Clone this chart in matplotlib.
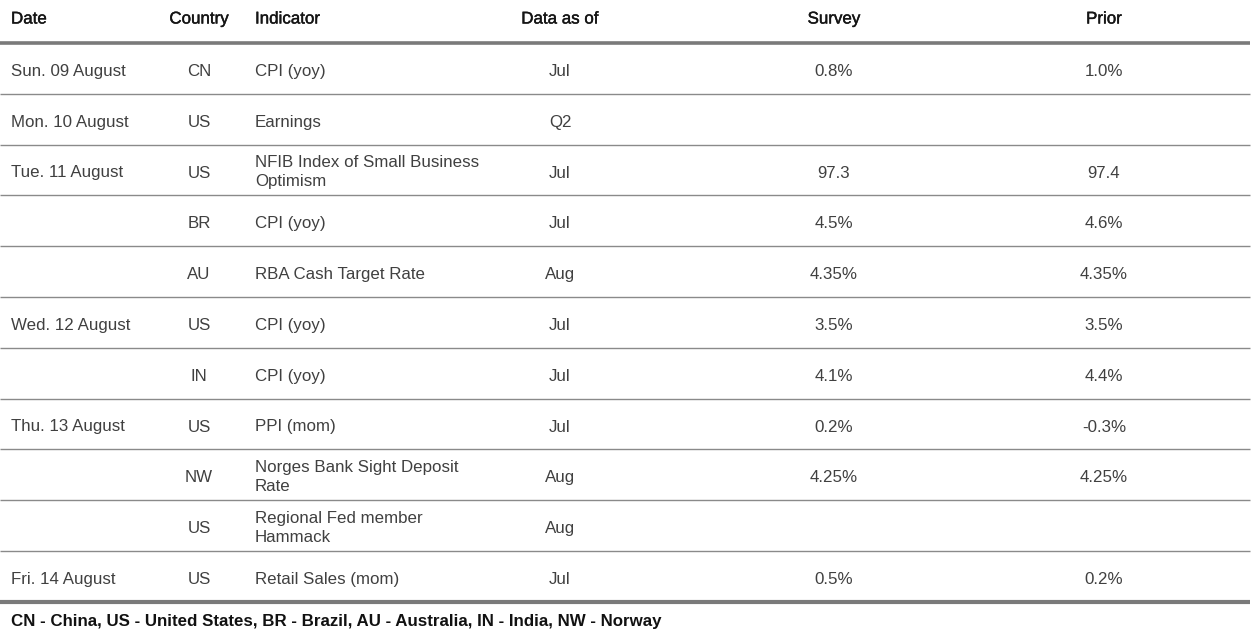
import matplotlib
matplotlib.use("Agg")
import matplotlib.pyplot as plt
import matplotlib.patheffects as pe

headers = ["Date", "Country", "Indicator", "Data as of", "Survey", "Prior"]
dates = ["Sun. 09 August", "Mon. 10 August", "Tue. 11 August", "", "", "Wed. 12 August",
         "", "Thu. 13 August", "", "", "Fri. 14 August"]
countries = ["CN", "US", "US", "BR", "AU", "US", "IN", "US", "NW", "US", "US"]
indicators = ["CPI (yoy)", "Earnings", "NFIB Index of Small Business\nOptimism", "CPI (yoy)",
              "RBA Cash Target Rate", "CPI (yoy)", "CPI (yoy)", "PPI (mom)",
              "Norges Bank Sight Deposit\nRate", "Regional Fed member\nHammack", "Retail Sales (mom)"]
data_as_of = ["Jul", "Q2", "Jul", "Jul", "Aug", "Jul", "Jul", "Jul", "Aug", "Aug", "Jul"]
survey = ["0.8%", "", "97.3", "4.5%", "4.35%", "3.5%", "4.1%", "0.2%", "4.25%", "", "0.5%"]
prior = ["1.0%", "", "97.4", "4.6%", "4.35%", "3.5%", "4.4%", "-0.3%", "4.25%", "", "0.2%"]
footnote = "CN - China, US - United States, BR - Brazil, AU - Australia, IN - India, NW - Norway"

W, H = 1254, 642
fig = plt.figure(figsize=(W / 100, H / 100), dpi=100)
ax = fig.add_axes([0, 0, 1, 1])
ax.set_xlim(0, W)
ax.set_ylim(H, 0)
ax.axis("off")

font = "Liberation Sans"
fs = 12.2
body_col = "#404040"
head_col = "#151515"

# column x positions and alignment
cols = [(11, "left"), (199, "center"), (255, "left"), (560, "center"), (834, "center"), (1104, "center")]

header_base = 23.5
top_line = 43
row_h = 50.8
n = len(dates)

for (x, ha), h in zip(cols, headers):
    ax.text(x, header_base, h, ha=ha, va="baseline", fontsize=fs, color=head_col,
            family=font, fontweight="normal",
            path_effects=[pe.withStroke(linewidth=0.3, foreground=head_col)])

ax.plot([0, 1250], [top_line, top_line], color="#7a7a7a", lw=2.6, solid_capstyle="butt")

columns = [dates, countries, indicators, data_as_of, survey, prior]
for i in range(n):
    yc = top_line + row_h * (i + 0.5)
    for (x, ha), col in zip(cols, columns):
        txt = col[i]
        if not txt:
            continue
        lines = txt.split("\n")
        if len(lines) == 1:
            bases = [yc + 7.5]
        else:
            bases = [yc - 3.0, yc + 16.0]
        for b, line in zip(bases, lines):
            ax.text(x, b, line, ha=ha, va="baseline", fontsize=fs, color=body_col,
                    family=font)
    yl = top_line + row_h * (i + 1)
    if i < n - 1:
        ax.plot([0, 1250], [yl, yl], color="#8a8a8a", lw=1.0, solid_capstyle="butt")
    else:
        ax.plot([0, 1250], [yl, yl], color="#7a7a7a", lw=3.0, solid_capstyle="butt")

ax.text(11, 626, footnote, ha="left", va="baseline", fontsize=fs, color="#111111",
        family=font, fontweight="bold")

fig.savefig("out.png", dpi=100)
